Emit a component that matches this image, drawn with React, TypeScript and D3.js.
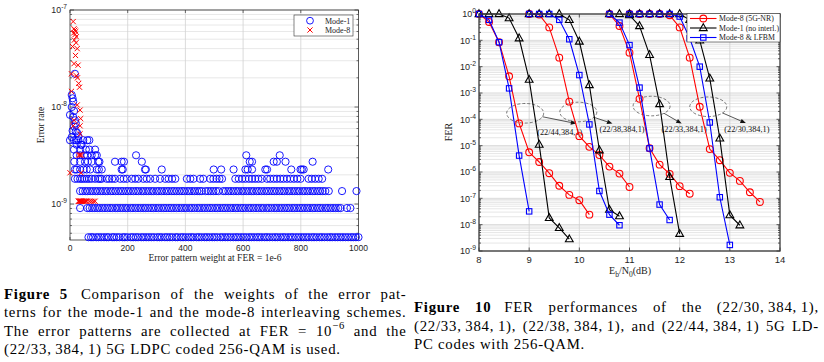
import { useEffect, useRef } from 'react';
import * as d3 from 'd3';

// ---------- Figure 5: error pattern weights ----------
const weightTicks = [0, 200, 400, 600, 800, 1000];
const rateTicks = [1e-9, 1e-8, 1e-7];

// mode-1 errors sit on discrete error-rate levels, one weight list per level
const mode1Levels = [4.55e-10, 9.09e-10, 1.36e-9, 1.82e-9, 2.27e-9, 2.73e-9, 3.18e-9, 3.64e-9, 4.09e-9, 4.55e-9];
const mode1Weights = [
  [64, 73, 80, 91, 99, 108, 118, 127, 134, 146, 153, 162, 171, 183, 190, 199, 211, 219, 228, 236, 247, 255, 264, 273, 282, 291, 302, 310, 318, 329, 337, 346, 355, 366, 373, 384, 392, 401, 411, 420, 428, 439, 447, 456, 466, 474, 483, 493, 501, 510, 521, 529, 538, 547, 556, 566, 575, 583, 593, 602, 611, 621, 629, 638, 648, 656, 665, 675, 683, 692, 702, 711, 719, 729, 738, 746, 756, 765, 773, 783, 792, 801, 810, 819, 828, 838, 846, 855, 865, 873, 882, 892, 901, 909, 919, 928, 937, 946, 955, 964, 974, 982, 991, 1000],
  [35, 60, 68, 77, 86, 95, 103, 112, 121, 130, 139, 147, 157, 165, 174, 183, 192, 200, 210, 218, 227, 236, 245, 254, 262, 271, 281, 289, 298, 307, 316, 325, 333, 343, 351, 360, 369, 378, 387, 396, 404, 414, 422, 431, 441, 449, 458, 467, 476, 485, 493, 503, 511, 520, 530, 538, 547, 556, 565, 574, 582, 592, 600, 609, 619, 627, 636, 645, 654, 663, 671, 681, 689, 698, 708, 716, 725, 734, 743, 752, 760, 770, 778, 787, 797, 805, 814, 823, 832, 841, 849, 859, 867, 876, 886, 894, 903, 912, 921, 930, 938, 960, 972],
  [35, 44, 53, 61, 70, 79, 88, 96, 105, 114, 123, 131, 141, 149, 158, 167, 176, 184, 194, 202, 211, 220, 229, 237, 247, 255, 264, 273, 282, 290, 300, 308, 317, 326, 335, 343, 353, 361, 370, 379, 388, 396, 406, 414, 423, 432, 441, 449, 457, 470, 479, 488, 497, 506, 515, 531, 540, 549, 558, 567, 576, 584, 594, 602, 611, 620, 629, 637, 647, 655, 664, 673, 682, 690, 700, 708, 717, 726, 735, 743, 753, 761, 770, 779, 788, 796, 806, 814, 823, 832, 841, 849, 859, 867, 876, 885, 897, 943, 993],
  [17, 26, 35, 42, 50, 58, 66, 75, 87, 98, 104, 110, 127, 136, 146, 156, 174, 186, 197, 214, 226, 237, 254, 266, 278, 295, 312, 330, 342, 354, 365, 405, 417, 428, 451, 462, 486, 497, 508, 518, 527, 573, 585, 597, 608, 620, 631, 642, 653, 665, 683, 694, 706, 717, 729, 740, 752, 764, 776, 788, 799, 827, 838, 850, 862, 874],
  [17, 23, 35, 47, 58, 70, 93, 100, 110, 179, 183, 260, 263, 318, 498, 524, 567, 608, 616, 631, 677, 683, 767, 799, 804, 810, 895],
  [15, 35, 52, 62, 75, 98, 102, 156, 179, 187, 249, 623, 631, 706, 717, 747, 841],
  [23, 35, 49, 60, 75, 87, 93, 229, 611, 727],
  [14, 35, 55, 67, 87],
  [23, 37, 40],
  [0, 14, 21, 29, 46, 60, 67],
];
// mode-1 points above the levels: [weight, error rate]
const mode1Scattered = [
  [17, 2.2e-8], [6, 1.33e-8], [9, 1.23e-8], [11, 1.14e-8], [6, 1.0e-8], [0, 8.3e-9], [14, 9.1e-9],
  [17, 7.3e-9], [11, 7.9e-9], [14, 6.3e-9], [20, 6.8e-9], [9, 5.7e-9], [20, 5.6e-9], [25, 5.4e-9],
  [6, 4.9e-9], [29, 5.0e-9],
];
const mode8Level = 1.07e-9;
const mode8LevelWeights = [29, 31, 33, 35, 37, 39, 41, 44, 47, 51, 55, 58, 67, 74, 81, 87];
const mode8Scattered = [
  [0, 2.1e-9], [38, 2.1e-9], [30, 3.2e-9], [35, 3.2e-9], [40, 3.2e-9], [35, 5.3e-9], [11, 6.4e-9],
  [35, 6.4e-9], [37, 7.6e-9], [14, 7.3e-9], [35, 9.3e-9], [25, 1.05e-8], [5, 1.45e-8], [33, 1.6e-8],
  [30, 1.75e-8], [26, 2.0e-8], [22, 2.1e-8], [5, 2.2e-8], [28, 2.7e-8], [14, 2.8e-8], [19, 3.4e-8],
  [25, 4.0e-8], [9, 4.2e-8], [21, 4.6e-8], [15, 4.9e-8], [22, 5.3e-8], [13, 5.8e-8], [18, 5.6e-8],
  [20, 6.0e-8], [17, 6.2e-8], [14, 6.4e-8], [11, 7.6e-8],
];

// ---------- Figure 10: FER curves ----------
const ebTicks = [8, 9, 10, 11, 12, 13, 14];
const ferTicks = [1, 1e-1, 1e-2, 1e-3, 1e-4, 1e-5, 1e-6, 1e-7, 1e-8, 1e-9];
const seriesNames = ['Mode-8 (5G-NR)', 'Mode-1 (no interl.)', 'Mode-8 & LFBM'];
const seriesColors = ['#ff0000', '#000000', '#0000ff'];
const codeLabels = ['(22/44,384,1)', '(22/38,384,1)', '(22/33,384,1)', '(22/30,384,1)'];

// one entry per code, same order as codeLabels
const nrEb = [
  [8.0, 8.2, 8.4, 8.6, 8.8, 9.0, 9.2, 9.4, 9.6, 9.8, 10.0, 10.2],
  [9.0, 9.2, 9.4, 9.6, 9.8, 10.0, 10.2, 10.4, 10.6, 10.8, 11.0],
  [10.6, 10.8, 11.0, 11.2, 11.4, 11.6, 11.8, 12.0, 12.2],
  [11.0, 11.2, 11.4, 11.6, 11.8, 12.0, 12.2, 12.4, 12.6, 12.8, 13.0, 13.2, 13.4, 13.6],
];
const nrFer = [
  [1, 0.5, 0.085, 4.3e-3, 7e-5, 5.6e-6, 2.4e-6, 9e-7, 3e-7, 1.35e-7, 8.5e-8, 2.4e-8],
  [1, 0.95, 0.31, 0.022, 4.7e-4, 2.3e-5, 9e-6, 4.4e-6, 1.6e-6, 8.7e-7, 2.7e-7],
  [1, 0.35, 0.034, 6e-4, 8e-6, 1.9e-6, 8.5e-7, 2.9e-7, 1.5e-7],
  [1, 1, 1, 1, 0.9, 0.31, 0.022, 3e-4, 7.4e-6, 2.8e-6, 9.3e-7, 4.6e-7, 1.7e-7, 7.3e-8],
];
const m1Eb = [
  [8.0, 8.2, 8.4, 8.6, 8.8, 9.0, 9.2, 9.4, 9.6, 9.8],
  [9.0, 9.2, 9.4, 9.6, 9.8, 10.0, 10.2, 10.4, 10.6, 10.8],
  [10.6, 10.8, 11.0, 11.2, 11.4, 11.6, 11.8, 12.0],
  [11.0, 11.2, 11.4, 11.6, 11.8, 12.0, 12.2, 12.4, 12.6, 12.8, 13.0, 13.2],
];
const m1Fer = [
  [1, 1, 1, 0.7, 0.12, 3.2e-3, 1.1e-5, 1.8e-8, 7.5e-9, 2.8e-9],
  [1, 1, 1, 1, 0.6, 0.09, 2e-3, 6.7e-6, 3.7e-8, 2.1e-8],
  [1, 1, 0.9, 0.35, 0.028, 3.8e-4, 6.5e-7, 4.5e-9],
  [1, 1, 1, 1, 1, 1, 0.6, 0.1, 3.6e-3, 1.9e-5, 2.3e-8, 9.5e-9],
];
const lfbmEb = [
  [8.0, 8.2, 8.4, 8.6, 8.8, 9.0],
  [9.0, 9.2, 9.4, 9.6, 9.8, 10.0, 10.2, 10.4, 10.6, 10.8],
  [10.6, 10.8, 11.0, 11.2, 11.4, 11.6, 11.8],
  [11.0, 11.2, 11.4, 11.6, 11.8, 12.0, 12.2, 12.4, 12.6, 12.8, 13.0],
];
const lfbmFer = [
  [1, 0.6, 0.085, 1.5e-3, 4.2e-6, 3.2e-8],
  [1, 1, 1, 0.6, 0.11, 4.8e-3, 6.4e-5, 1.9e-7, 2.4e-8, 9.5e-9],
  [1, 0.47, 0.066, 1.6e-3, 7.9e-6, 5.8e-8, 1.5e-8],
  [1, 1, 1, 1, 1, 0.8, 0.12, 0.01, 7.6e-5, 1.1e-7, 1.7e-9],
];
// dashed ellipse + arrow annotations (data coordinates)
const annotEb = [8.92, 9.98, 11.44, 12.57];
const annotFer = [1.7e-4, 1.9e-4, 3.2e-4, 3.0e-4];
const arrowEb = [9.94, 10.66, 12.04, 13.32];
const arrowFer = [6.9e-5, 6.9e-5, 6.9e-5, 7.2e-5];
const labelEb = [9.61, 10.85, 12.09, 13.34];
const labelFer = [2.5e-5, 3.2e-5, 3.2e-5, 3.2e-5];

// ---------- captions ----------
type Seg = { t: string; bold?: boolean; sup?: boolean; gap?: number };
const caption5: Seg[][] = [
  [{ t: 'Figure 5', bold: true }, { t: 'Comparison of the weights of the error pat-', gap: 13 }],
  [{ t: 'terns for the mode-1 and the mode-8 interleaving schemes.' }],
  [{ t: 'The error patterns are collected at FER = 10' }, { t: '\u22126', sup: true }, { t: ' and the' }],
  [{ t: '(22/33,\u2009384,\u20091) 5G LDPC coded 256-QAM is used.' }],
];
const caption10: Seg[][] = [
  [{ t: 'Figure 10', bold: true }, { t: 'FER performances of the (22/30,\u2009384,\u20091),', gap: 13 }],
  [{ t: '(22/33,\u2009384,\u20091), (22/38,\u2009384,\u20091), and (22/44,\u2009384,\u20091) 5G LD-' }],
  [{ t: 'PC codes with 256-QAM.' }],
];

const SERIF = "'Liberation Serif', 'Times New Roman', serif";
const SANS = "'Liberation Sans', Arial, sans-serif";

function powLabel(g: any, x: number, y: number, exp: string, size: number) {
  const t = g.append('text').attr('x', x).attr('y', y).attr('text-anchor', 'end')
    .attr('font-family', SANS).attr('font-size', size).attr('fill', '#262626');
  t.append('tspan').text('10');
  t.append('tspan').attr('dy', -size * 0.45).attr('font-size', size * 0.75).text(exp);
}

function minorLogValues(lo: number, hi: number) {
  const out: number[] = [];
  for (let e = Math.floor(Math.log10(lo)); e < Math.ceil(Math.log10(hi)); e++)
    for (let m = 2; m <= 9; m++) {
      const v = m * Math.pow(10, e);
      if (v > lo && v < hi) out.push(v);
    }
  return out;
}

function drawFig5(g: any) {
  const x = d3.scaleLinear().domain([0, 1000]).range([70, 358.5]);
  const y = d3.scaleLog().domain([4.26e-10, 1e-7]).range([240, 10]);
  const [x0, x1] = x.range();
  const [yb, yt] = y.range();
  const minor = minorLogValues(4.26e-10, 1e-7);

  g.append('g').selectAll('line').data(minor).join('line')
    .attr('x1', x0).attr('x2', x1).attr('y1', (d: number) => y(d)).attr('y2', (d: number) => y(d))
    .attr('stroke', '#e2e2e2').attr('stroke-width', 0.8);
  g.append('g').selectAll('line').data(rateTicks).join('line')
    .attr('x1', x0).attr('x2', x1).attr('y1', (d: number) => y(d)).attr('y2', (d: number) => y(d))
    .attr('stroke', '#d2d2d2').attr('stroke-width', 0.8);
  g.append('g').selectAll('line').data(weightTicks.slice(1, -1)).join('line')
    .attr('x1', (d: number) => x(d)).attr('x2', (d: number) => x(d)).attr('y1', yt).attr('y2', yb)
    .attr('stroke', '#d2d2d2').attr('stroke-width', 0.8);

  // ticks
  const tk = g.append('g').attr('stroke', '#333').attr('stroke-width', 0.7);
  weightTicks.forEach(d => {
    tk.append('line').attr('x1', x(d)).attr('x2', x(d)).attr('y1', yb).attr('y2', yb - 3);
    tk.append('line').attr('x1', x(d)).attr('x2', x(d)).attr('y1', yt).attr('y2', yt + 3);
  });
  rateTicks.forEach(d => {
    tk.append('line').attr('x1', x0).attr('x2', x0 + 4).attr('y1', y(d)).attr('y2', y(d));
    tk.append('line').attr('x1', x1).attr('x2', x1 - 4).attr('y1', y(d)).attr('y2', y(d));
  });
  minor.forEach(d => {
    tk.append('line').attr('x1', x0).attr('x2', x0 + 2).attr('y1', y(d)).attr('y2', y(d));
    tk.append('line').attr('x1', x1).attr('x2', x1 - 2).attr('y1', y(d)).attr('y2', y(d));
  });
  g.append('rect').attr('x', x0).attr('y', yt).attr('width', x1 - x0).attr('height', yb - yt)
    .attr('fill', 'none').attr('stroke', '#333').attr('stroke-width', 0.8);

  g.append('g').selectAll('text').data(weightTicks).join('text')
    .attr('x', (d: number) => x(d)).attr('y', 250.5).attr('text-anchor', 'middle')
    .attr('font-family', SANS).attr('font-size', 8.5).attr('fill', '#262626').text((d: number) => d);
  rateTicks.forEach(d => powLabel(g, 67, y(d) + 3.2, String(Math.round(Math.log10(d))), 8.8));

  g.append('text').attr('transform', 'translate(44,125) rotate(-90)').attr('text-anchor', 'middle')
    .attr('font-family', SERIF).attr('font-size', 9.5).attr('fill', '#222').text('Error rate');
  g.append('text').attr('x', 215).attr('y', 261).attr('text-anchor', 'middle')
    .attr('font-family', SERIF).attr('font-size', 9.5).attr('fill', '#222')
    .text('Error pattern weight at FER = 1e-6');

  // mode-1 circles
  const circles: number[][] = [];
  mode1Weights.forEach((ws, i) => ws.forEach(w => circles.push([w, mode1Levels[i]])));
  mode1Scattered.forEach(p => circles.push(p));
  g.append('g').selectAll('circle').data(circles).join('circle')
    .attr('cx', (d: number[]) => x(d[0])).attr('cy', (d: number[]) => y(d[1])).attr('r', 3.6)
    .attr('fill', 'none').attr('stroke', '#0000ff').attr('stroke-width', 0.9);

  // mode-8 crosses
  const crosses: number[][] = mode8LevelWeights.map(w => [w, mode8Level]).concat(mode8Scattered);
  const s = 2.6;
  g.append('g').selectAll('path').data(crosses).join('path')
    .attr('d', (d: number[]) => {
      const cx = x(d[0]), cy = y(d[1]);
      return `M${cx - s},${cy - s}L${cx + s},${cy + s}M${cx - s},${cy + s}L${cx + s},${cy - s}`;
    })
    .attr('stroke', '#ff0000').attr('stroke-width', 1).attr('fill', 'none');

  // legend
  const lg = g.append('g');
  lg.append('rect').attr('x', 294).attr('y', 15).attr('width', 59).attr('height', 21)
    .attr('fill', '#fff').attr('stroke', '#333').attr('stroke-width', 0.6);
  lg.append('circle').attr('cx', 310).attr('cy', 20.7).attr('r', 3.4).attr('fill', 'none')
    .attr('stroke', '#0000ff').attr('stroke-width', 0.9);
  lg.append('path').attr('d', `M${310 - s},${30 - s}L${310 + s},${30 + s}M${310 - s},${30 + s}L${310 + s},${30 - s}`)
    .attr('stroke', '#ff0000').attr('stroke-width', 1);
  ['Mode-1', 'Mode-8'].forEach((t, i) => lg.append('text').attr('x', 325).attr('y', 23.5 + i * 9.4)
    .attr('font-family', SERIF).attr('font-size', 8).attr('fill', '#222').text(t));
}

function marker(g: any, kind: number, cx: number, cy: number, color: string) {
  if (kind === 0) {
    g.append('circle').attr('cx', cx).attr('cy', cy).attr('r', 3.4)
      .attr('fill', 'none').attr('stroke', color).attr('stroke-width', 1.1);
  } else if (kind === 1) {
    g.append('path').attr('d', `M${cx},${cy - 4.3}L${cx + 3.9},${cy + 2.6}L${cx - 3.9},${cy + 2.6}Z`)
      .attr('fill', 'none').attr('stroke', color).attr('stroke-width', 1.1);
  } else {
    g.append('rect').attr('x', cx - 2.7).attr('y', cy - 2.7).attr('width', 5.4).attr('height', 5.4)
      .attr('fill', 'none').attr('stroke', color).attr('stroke-width', 1.1);
  }
}

function drawFig10(g: any) {
  const x = d3.scaleLinear().domain([8, 14]).range([479, 780]);
  const y = d3.scaleLog().domain([1e-9, 1]).range([251, 14]);
  const [x0, x1] = x.range();
  const [yb, yt] = y.range();
  const minor = minorLogValues(1e-9, 1);

  g.append('g').selectAll('line').data(minor).join('line')
    .attr('x1', x0).attr('x2', x1).attr('y1', (d: number) => y(d)).attr('y2', (d: number) => y(d))
    .attr('stroke', '#e6e6e6').attr('stroke-width', 1);
  g.append('g').selectAll('line').data(ferTicks).join('line')
    .attr('x1', x0).attr('x2', x1).attr('y1', (d: number) => y(d)).attr('y2', (d: number) => y(d))
    .attr('stroke', '#cfcfcf').attr('stroke-width', 0.8);
  g.append('g').selectAll('line').data(ebTicks.slice(1, -1)).join('line')
    .attr('x1', (d: number) => x(d)).attr('x2', (d: number) => x(d)).attr('y1', yt).attr('y2', yb)
    .attr('stroke', '#cfcfcf').attr('stroke-width', 0.8);

  const tk = g.append('g').attr('stroke', '#333').attr('stroke-width', 0.8);
  ebTicks.forEach(d => {
    tk.append('line').attr('x1', x(d)).attr('x2', x(d)).attr('y1', yb).attr('y2', yb - 3.5);
    tk.append('line').attr('x1', x(d)).attr('x2', x(d)).attr('y1', yt).attr('y2', yt + 3.5);
  });
  ferTicks.forEach(d => {
    tk.append('line').attr('x1', x0).attr('x2', x0 + 3.5).attr('y1', y(d)).attr('y2', y(d));
    tk.append('line').attr('x1', x1).attr('x2', x1 - 3.5).attr('y1', y(d)).attr('y2', y(d));
  });
  minor.forEach(d => {
    tk.append('line').attr('x1', x0).attr('x2', x0 + 2).attr('y1', y(d)).attr('y2', y(d));
    tk.append('line').attr('x1', x1).attr('x2', x1 - 2).attr('y1', y(d)).attr('y2', y(d));
  });

  // annotations (under curves)
  const an = g.append('g');
  annotEb.forEach((e, i) => {
    const cx = x(e), cy = y(annotFer[i]), tx = x(arrowEb[i]), ty = y(arrowFer[i]);
    const rx = 18.5, ry = 9.8;
    an.append('ellipse').attr('cx', cx).attr('cy', cy).attr('rx', rx).attr('ry', ry)
      .attr('fill', 'none').attr('stroke', '#555').attr('stroke-width', 0.8).attr('stroke-dasharray', '3,2');
    const dx = tx - cx, dy = ty - cy;
    const t = 1 / Math.sqrt((dx / rx) ** 2 + (dy / ry) ** 2);
    const sx = cx + dx * t, sy = cy + dy * t;
    const ang = Math.atan2(dy, dx), len = 5.5, hw = 2.2;
    const bx = tx - len * Math.cos(ang), by = ty - len * Math.sin(ang);
    an.append('line').attr('x1', sx).attr('y1', sy).attr('x2', bx).attr('y2', by)
      .attr('stroke', '#111').attr('stroke-width', 0.7);
    an.append('path')
      .attr('d', `M${tx},${ty}L${bx - hw * Math.sin(ang)},${by + hw * Math.cos(ang)}L${bx + hw * Math.sin(ang)},${by - hw * Math.cos(ang)}Z`)
      .attr('fill', '#111');
    an.append('text').attr('x', x(labelEb[i])).attr('y', y(labelFer[i])).attr('text-anchor', 'middle')
      .attr('font-family', SERIF).attr('font-size', 8.3).attr('fill', '#111').text(codeLabels[i]);
  });

  // curves
  const sets = [[nrEb, nrFer], [m1Eb, m1Fer], [lfbmEb, lfbmFer]];
  const line = d3.line<number[]>().x(d => x(d[0])).y(d => y(d[1]));
  const cg = g.append('g');
  sets.forEach(([ebs, fers], k) => {
    ebs.forEach((eb, c) => {
      const pts = eb.map((e, j) => [e, fers[c][j]]);
      cg.append('path').attr('d', line(pts)).attr('fill', 'none')
        .attr('stroke', seriesColors[k]).attr('stroke-width', 1.1);
      pts.forEach(p => marker(cg, k, x(p[0]), y(p[1]), seriesColors[k]));
    });
  });

  g.append('rect').attr('x', x0).attr('y', yt).attr('width', x1 - x0).attr('height', yb - yt)
    .attr('fill', 'none').attr('stroke', '#3a3a3a').attr('stroke-width', 1.3);

  g.append('g').selectAll('text').data(ebTicks).join('text')
    .attr('x', (d: number) => x(d)).attr('y', 262.5).attr('text-anchor', 'middle')
    .attr('font-family', SANS).attr('font-size', 9.5).attr('fill', '#262626').text((d: number) => d);
  ferTicks.forEach(d => powLabel(g, 476, y(d) + 3.3, String(Math.round(Math.log10(d))), 9));

  g.append('text').attr('transform', 'translate(452,132) rotate(-90)').attr('text-anchor', 'middle')
    .attr('font-family', SERIF).attr('font-size', 10).attr('fill', '#222').text('FER');
  const xl = g.append('text').attr('x', 630).attr('y', 274).attr('text-anchor', 'middle')
    .attr('font-family', SERIF).attr('font-size', 10).attr('fill', '#222');
  xl.append('tspan').text('E');
  xl.append('tspan').attr('dy', 2.5).attr('font-size', 7.5).text('b');
  xl.append('tspan').attr('dy', -2.5).text('/N');
  xl.append('tspan').attr('dy', 2.5).attr('font-size', 7.5).text('0');
  xl.append('tspan').attr('dy', -2.5).text('(dB)');

  // legend
  const lg = g.append('g');
  lg.append('rect').attr('x', 687).attr('y', 13.5).attr('width', 93).attr('height', 28.5)
    .attr('fill', '#fff').attr('stroke', '#333').attr('stroke-width', 0.6);
  seriesNames.forEach((n, k) => {
    const ly = 18.5 + k * 9.5;
    lg.append('line').attr('x1', 690).attr('x2', 716.5).attr('y1', ly).attr('y2', ly)
      .attr('stroke', seriesColors[k]).attr('stroke-width', 1.1);
    marker(lg, k, 703.3, ly, seriesColors[k]);
    lg.append('text').attr('x', 719).attr('y', ly + 2.8).attr('font-family', SERIF)
      .attr('font-size', 7.8).attr('fill', '#222').text(n);
  });
}

function drawCaption(g: any, lines: Seg[][], x0: number, x1: number, y0: number, lead: number, size: number) {
  lines.forEach((segs, i) => {
    const t = g.append('text').attr('x', x0).attr('y', y0 + i * lead)
      .attr('font-family', SERIF).attr('font-size', size).attr('letter-spacing', 0.75).attr('fill', '#000');
    let raised = false;
    segs.forEach(s => {
      const sp = t.append('tspan').text(s.t);
      if (s.bold) sp.attr('font-weight', 'bold');
      if (s.gap) sp.attr('dx', s.gap);
      if (s.sup) { sp.attr('dy', -size * 0.42).attr('font-size', size * 0.72); raised = true; }
      else if (raised) { sp.attr('dy', size * 0.42); raised = false; }
    });
    if (i < lines.length - 1) {
      const w = (t.node() as SVGTextElement).getBBox().width;
      const spaces = segs.map(s => s.t).join('').split(' ').length - 1;
      if (spaces > 0) t.attr('word-spacing', (x1 - x0 - w) / spaces);
    }
  });
}

export default function App() {
  const svgRef = useRef<SVGSVGElement>(null);

  useEffect(() => {
    const svg = d3.select(svgRef.current);
    svg.selectAll('*').remove();
    svg.append('rect').attr('width', 824).attr('height', 362).attr('fill', '#fff');
    drawFig5(svg.append('g'));
    drawFig10(svg.append('g'));
    drawCaption(svg.append('g'), caption5, 4, 406.5, 298.5, 18.6, 14.8);
    drawCaption(svg.append('g'), caption10, 414, 819, 311.7, 18.8, 14.8);
  }, []);

  return (
    <svg ref={svgRef} width={824} height={362}
      style={{ position: 'absolute', left: 0, top: 0, display: 'block' }} />
  );
}
